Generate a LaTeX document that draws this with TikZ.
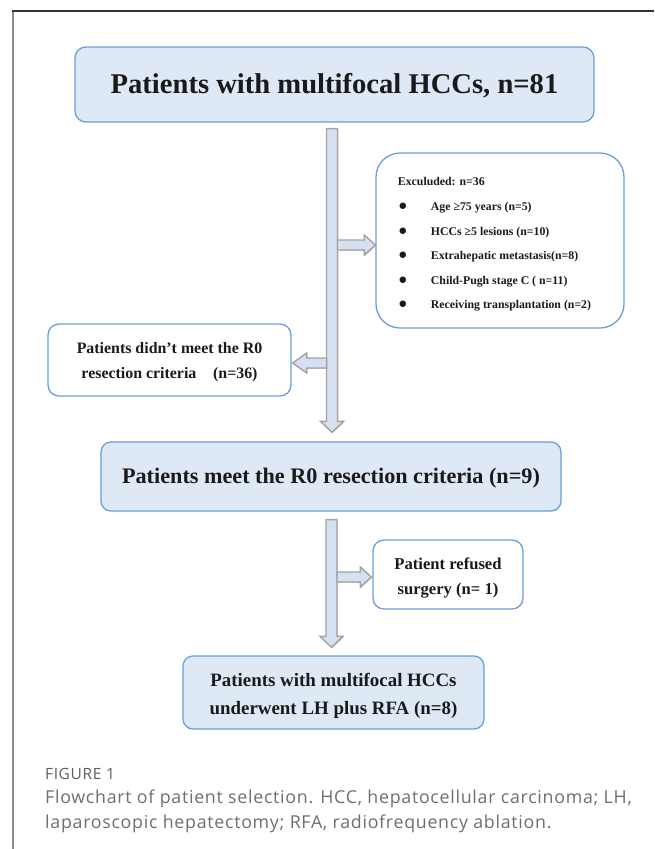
\documentclass[tikz,border=0pt]{standalone}
\usepackage{fontspec}
\setmainfont{Liberation Serif}
\newfontfamily\capfont[LetterSpace=4]{Open Sans}
\usetikzlibrary{calc,shadows}
\definecolor{boxfill}{HTML}{DFE9F5}
\definecolor{boxdraw}{HTML}{6A9FD8}
\definecolor{arrfill}{HTML}{D6E0F1}
\definecolor{arrdraw}{HTML}{A3A3A3}
\definecolor{txt}{HTML}{1A1A1A}
\definecolor{capgray}{HTML}{6E6E6E}
\tikzset{
  bluebox/.style={draw=boxdraw, fill=boxfill, line width=1.3pt, rounded corners=11pt,
    text=txt, align=center, inner sep=0pt},
  whitebox/.style={bluebox, fill=white},
  blockarrow/.style={draw=arrdraw, fill=arrfill, line width=1.4pt, line join=miter,
    drop shadow={shadow xshift=0.8pt, shadow yshift=-0.8pt, opacity=0.35, fill=black!60}},
}
\newcommand\vbarrow[2]{%
  \draw[blockarrow] ($(#1)+(-5.5,0)$) -- ($(#2)+(-5.5,-11)$) -- ($(#2)+(-11.5,-11)$) -- (#2)
    -- ($(#2)+(11.5,-11)$) -- ($(#2)+(5.5,-11)$) -- ($(#1)+(5.5,0)$) -- cycle;}
\newcommand\hbarrow[3]{%
  \draw[blockarrow] ($(#1)+(0,-5)$) -- ($(#2)+({-(#3)},-5)$) -- ($(#2)+({-(#3)},-10)$) -- (#2)
    -- ($(#2)+({-(#3)},10)$) -- ($(#2)+({-(#3)},5)$) -- ($(#1)+(0,5)$) -- cycle;}
\newcommand\bul{\makebox[33pt][l]{\hspace{0.5pt}{\fontsize{15}{15}\selectfont ●}}}
\begin{document}
\begin{tikzpicture}[x=1pt,y=-1pt]
\useasboundingbox (0,0) rectangle (654,849);
% frame
\draw[line width=1.3pt, black!45] (13,849) -- (13,11);
\draw[line width=1.3pt, black!80] (12.4,11) -- (654,11);

% boxes
\node[bluebox, minimum width=519, minimum height=75,
  font=\bfseries\fontsize{28.6}{32}\selectfont] (top) at (334.5,84.5)
  {\rule{0pt}{23pt}Patients with multifocal HCCs, n=81};

\node[whitebox, rounded corners=24pt, minimum width=248, minimum height=175,
  font=\bfseries\fontsize{11.8}{24.6}\selectfont, align=left] (exc) at (500,240.5)
  {\rule{0pt}{16.5pt}Exculuded: n=36\\
   \bul Age ≥75 years (n=5)\\
   \bul HCCs ≥5 lesions (n=10)\\
   \bul Extrahepatic metastasis(n=8)\\
   \bul Child-Pugh stage C ( n=11)\\
   \bul Receiving transplantation (n=2)\hspace*{11pt}};

\node[whitebox, minimum width=243, minimum height=72,
  font=\bfseries\fontsize{15.9}{25}\selectfont] (nomeet) at (169.5,360)
  {\rule{0pt}{15pt}Patients didn’t meet the R0\\resection criteria\hspace{0.8em} (n=36)};

\node[bluebox, rounded corners=10pt, minimum width=460, minimum height=69,
  font=\bfseries\fontsize{22.2}{26}\selectfont] (meet) at (331,476.5)
  {\rule{0pt}{18.5pt}Patients meet the R0 resection criteria (n=9)};

\node[whitebox, minimum width=150, minimum height=69,
  font=\bfseries\fontsize{16.6}{25}\selectfont] (refused) at (448,574.5)
  {\rule{0pt}{17.8pt}Patient refused\\surgery (n= 1)};

\node[bluebox, rounded corners=10pt, minimum width=301, minimum height=73,
  font=\bfseries\fontsize{18.9}{28}\selectfont] (final) at (333.5,692.5)
  {\rule{0pt}{21pt}Patients with multifocal HCCs\\underwent LH plus RFA (n=8)};

% connector end points
\coordinate (v1s) at ($(top.south)+(-2.5,6)$);
\coordinate (v1e) at ($(meet.north)+(1,-9)$);
\coordinate (b1s) at ($(v1s |- exc.west)+(5.5,4.5)$);
\coordinate (b1e) at ($(exc.west)+(0,4.5)$);
\coordinate (b2s) at ($(v1s |- nomeet.east)+(-5.5,3)$);
\coordinate (b2e) at ($(nomeet.east)+(1,3)$);
\coordinate (v2s) at ($(meet.south)+(0.5,8)$);
\coordinate (v2e) at ($(final.north)+(-2,-8)$);
\coordinate (b3s) at ($(v2s |- refused.west)+(5.5,2.5)$);
\coordinate (b3e) at ($(refused.west)+(-1,2.5)$);

\vbarrow{v1s}{v1e}
\vbarrow{v2s}{v2e}
\hbarrow{b1s}{b1e}{11}
\hbarrow{b2s}{b2e}{-14}
\hbarrow{b3s}{b3e}{11}

% caption
\node[anchor=base west, inner sep=0pt, text=capgray!85!black, font=\capfont\fontsize{15.5}{17}\selectfont]
  (figlabel) at (45,779) {FIGURE 1};
\node[anchor=base west, inner sep=0pt, text=capgray, align=left,
  font=\capfont\fontsize{17.8}{24.5}\selectfont] (caption) at (45,828)
  {Flowchart of patient selection. HCC, hepatocellular carcinoma; LH,\\
   laparoscopic hepatectomy; RFA, radiofrequency ablation.};
\end{tikzpicture}
\end{document}
